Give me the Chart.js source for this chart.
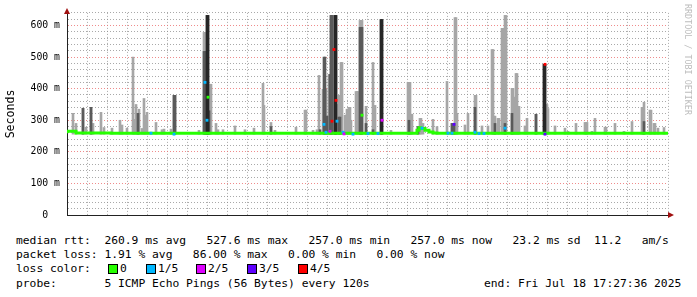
<!DOCTYPE html>
<html>
<head>
<meta charset="utf-8">
<script src="https://cdn.jsdelivr.net/npm/chart.js@4.4.1/dist/chart.umd.min.js"></script>
<style>
  body { margin:0; background:#fff; width:697px; height:297px; overflow:hidden; position:relative;
         font-family:'DejaVu Sans Mono', monospace; }
  #wrap { position:absolute; left:0; top:0; width:697px; height:232px; }
  .t { position:absolute; font-size:11.3px; line-height:14px; white-space:pre; color:#000; }
  .box { position:absolute; width:8px; height:8px; border:1px solid #000; }
  #credit { position:absolute; left:683px; top:4px; writing-mode:vertical-rl; font-size:8.4px;
            color:#bdbdbd; white-space:pre; }
</style>
</head>
<body>
<div id="wrap"><canvas id="smoke"></canvas></div>
<div id="credit">RRDTOOL / TOBI OETIKER</div>

<span class="t" style="left:16px;top:234px">median rtt:  260.9 ms avg   527.6 ms max   257.0 ms min   257.0 ms now   23.2 ms sd  11.2   am/s</span>
<span class="t" style="left:16px;top:248px">packet loss: 1.91 % avg   86.00 % max   0.00 % min   0.00 % now</span>

<span class="t" style="left:16px;top:262px">loss color:</span>
<div class="box" style="left:108px;top:264px;background:#26ff00"></div><span class="t" style="left:120px;top:262px">0</span>
<div class="box" style="left:146px;top:264px;background:#00b8ff"></div><span class="t" style="left:158px;top:262px">1/5</span>
<div class="box" style="left:196px;top:264px;background:#dd00ff"></div><span class="t" style="left:208px;top:262px">2/5</span>
<div class="box" style="left:247px;top:264px;background:#5e00ff"></div><span class="t" style="left:259px;top:262px">3/5</span>
<div class="box" style="left:298px;top:264px;background:#ff0000"></div><span class="t" style="left:310px;top:262px">4/5</span>

<span class="t" style="left:16px;top:277px">probe:       5 ICMP Echo Pings (56 Bytes) every 120s</span>
<span class="t" style="left:484px;top:277px">end: Fri Jul 18 17:27:36 2025</span>

<script>
// time = minutes after Thu 12:00, values in ms
const tickMinutes = [0, 360, 720, 1080, 1440];
const tickLabels = ['Thu 12:00', 'Thu 18:00', 'Fri 00:00', 'Fri 06:00', 'Fri 12:00'];

const smokeFloor = 256;

// outer smoke (lightest), [minute, top ms]
const lightSmoke = [
  [-12,322],[-3,290],[18,338],[27,278],[42,341],[48,290],[72,325],[81,277],[105,275],[129,300],
  [135,285],[150,275],[168,500],[171,303],[177,350],[183,322],[186,335],[195,274],[201,369],[204,316],
  [210,325],[237,293],[255,270],[261,272],[282,272],[291,379],[294,379],[366,268],[381,578],[384,578],
  [387,578],[390,632],[393,632],[396,414],[399,414],[402,414],[417,290],[423,270],[438,270],[474,282],
  [504,270],[531,275],[558,417],[561,347],[582,293],[594,268],[657,278],[684,332],[687,332],[708,268],
  [720,270],[726,442],[738,398],[741,398],[744,398],[747,398],[756,445],[759,445],[762,632],[765,632],
  [768,632],[771,632],[774,632],[777,632],[780,350],[783,350],[786,379],[789,379],[792,483],[795,483],
  [804,316],[807,316],[810,335],[813,335],[816,341],[819,341],[822,300],[837,391],[840,391],[843,391],
  [849,616],[852,616],[855,616],[867,344],[888,483],[894,347],[912,619],[915,619],[942,268],[993,420],
  [996,420],[999,420],[1002,319],[1005,319],[1023,280],[1029,306],[1032,306],[1038,290],[1068,303],[1080,280],
  [1110,423],[1125,290],[1134,625],[1137,625],[1140,322],[1164,285],[1173,322],[1194,379],[1197,379],[1215,282],
  [1233,282],[1245,524],[1248,524],[1251,313],[1254,313],[1263,306],[1266,306],[1275,591],[1278,591],[1284,632],
  [1287,632],[1305,401],[1308,401],[1311,373],[1314,373],[1317,448],[1320,448],[1323,344],[1326,344],[1344,282],
  [1350,306],[1377,319],[1401,477],[1404,477],[1407,350],[1410,350],[1413,337],[1434,282],[1464,275],[1473,265],
  [1497,290],[1524,293],[1527,293],[1530,293],[1545,265],[1554,306],[1584,278],[1587,278],[1614,290],[1641,265],
  [1665,296],[1695,341],[1698,341],[1701,357],[1719,332],[1722,332],[1731,290],[1734,290],[1743,275],[1761,277]
];

// inner smoke (dark grey)
const darkSmoke = [
  [18,338],[42,341],[183,322],[291,379],[294,379],[381,518],[384,518],[387,518],[396,330],[582,280],
  [729,270],[741,500],[744,500],[750,313],[759,445],[762,632],[765,632],[786,310],[789,310],[849,594],
  [852,594],[855,594],[867,290],[888,270],[996,300],[1023,280],[1125,290],[1131,290],[1194,341],[1254,290],
  [1284,290],[1305,322],[1377,319],[1701,296]
];

// core smoke (near black)
const coreSmoke = [
  [390,632],[393,632],[774,632],[777,632],[912,619],[915,619],[1401,477],[1404,477]
];

// median rtt, stepped
const medianRtt = [
  [-30,259],[-3,265],[102,260],[1020,259],[1026,268],[1032,276],[1044,274],[1056,268],[1068,263],[1080,260],[1773,259]
];

// median samples coloured by loss
const loss0 = [[393,373],[855,316]];
const loss1 = [[222,259],[291,256],[384,420],[390,300],[741,287],[747,262],[780,297],[798,262],[828,256],[873,258],
               [903,258],[1035,275],[1113,259],[1125,259],[1194,262],[1206,258],[1221,258],[1284,275]];
const loss2 = [[759,265],[801,257],[915,300]];
const loss3 = [[1131,287],[1404,256]];
const loss4 = [[765,297],[771,524],[777,363],[1404,477]];

const pts = arr => arr.map(p => ({x: p[0], y: p[1]}));
const bars = arr => arr.map(p => ({x: p[0], y: [smokeFloor, p[1]]}));

function smokeSet(arr, color, order) {
  return {type: 'bar', data: bars(arr), backgroundColor: color, borderWidth: 0,
          barThickness: 2, grouped: false, order: order};
}
function lossSet(arr, color) {
  return {type: 'line', data: pts(arr), showLine: false, pointStyle: 'rect', pointRadius: 2,
          pointBackgroundColor: color, pointBorderWidth: 0, order: 0};
}

const arrows = {
  id: 'arrows',
  afterDraw(chart) {
    const {ctx, chartArea: a} = chart;
    ctx.save();
    ctx.fillStyle = '#a01010';
    ctx.beginPath();
    ctx.moveTo(a.left, a.top - 5); ctx.lineTo(a.left - 3, a.top + 1); ctx.lineTo(a.left + 3, a.top + 1);
    ctx.fill();
    ctx.beginPath();
    ctx.moveTo(a.right + 6, a.bottom); ctx.lineTo(a.right, a.bottom - 3); ctx.lineTo(a.right, a.bottom + 3);
    ctx.fill();
    ctx.restore();
  }
};

const minorGrid = 'rgba(140,140,140,0.75)';
const majorGrid = 'rgba(235,110,110,0.8)';

new Chart(document.getElementById('smoke'), {
  type: 'bar',
  data: {
    datasets: [
      lossSet(loss4, '#ff0000'),
      lossSet(loss3, '#5e00ff'),
      lossSet(loss2, '#dd00ff'),
      lossSet(loss1, '#00b8ff'),
      lossSet(loss0, '#26ff00'),
      {type: 'line', data: pts(medianRtt), stepped: 'after', borderColor: '#26ff00', borderWidth: 3,
       pointRadius: 0, order: 1},
      smokeSet(coreSmoke, '#262626', 2),
      smokeSet(darkSmoke, '#5a5a5a', 3),
      smokeSet(lightSmoke, '#a6a6a6', 4)
    ]
  },
  options: {
    responsive: true,
    maintainAspectRatio: false,
    animation: false,
    layout: {padding: {left: 0, right: 29, top: 12, bottom: 0}},
    plugins: {legend: {display: false}, tooltip: {enabled: false}},
    scales: {
      x: {
        type: 'linear', min: -30, max: 1773, offset: false,
        afterFit: s => { s.height = 17; },
        grid: {
          offset: false, drawTicks: false, lineWidth: 1,
          color: c => c.tick.value % 180 === 0 ? majorGrid : minorGrid
        },
        border: {color: '#222', width: 1, dash: [1, 2]},
        ticks: {
          stepSize: 60, autoSkip: false, maxRotation: 0, includeBounds: false, maxTicksLimit: 100,
          padding: 4, color: '#000',
          font: {family: 'DejaVu Sans Mono', size: 9.8},
          callback: v => { const i = tickMinutes.indexOf(v); return i >= 0 ? tickLabels[i] : ''; }
        }
      },
      y: {
        min: 0, max: 640,
        afterFit: s => { s.width = 67; },
        grid: {
          drawTicks: false, lineWidth: 1,
          color: c => c.tick.value === 0 ? 'rgba(0,0,0,0)' : (c.tick.value % 100 === 0 ? majorGrid : minorGrid)
        },
        border: {color: '#222', width: 1, dash: [1, 2]},
        title: {display: true, text: 'Seconds', color: '#000', padding: {top: 4, bottom: 0},
                font: {family: 'DejaVu Sans Mono', size: 11.6}},
        ticks: {
          stepSize: 20, padding: 7, color: '#000', autoSkip: false, includeBounds: false, maxTicksLimit: 100,
          font: {family: 'DejaVu Sans Mono', size: 9.8},
          callback: v => v === 0 ? '0  ' : (v % 100 === 0 ? v + ' m' : '')
        }
      }
    }
  },
  plugins: [arrows]
});
</script>
</body>
</html>
